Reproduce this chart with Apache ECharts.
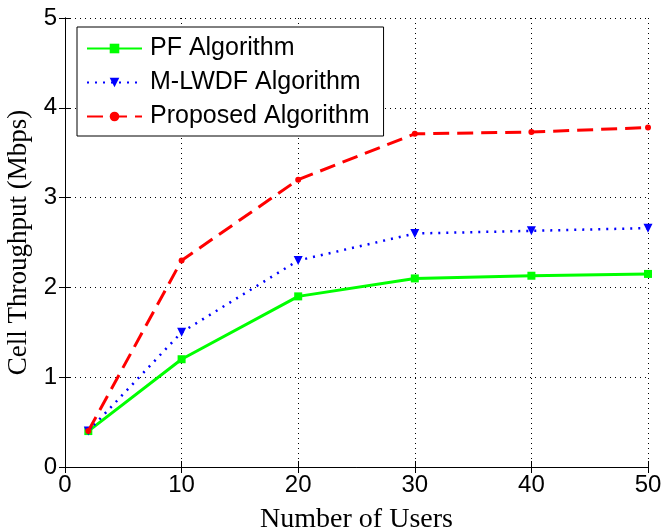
<!DOCTYPE html>
<html><head><meta charset="utf-8">
<script src="https://cdn.jsdelivr.net/npm/echarts@6/dist/echarts.min.js"></script>
<style>html,body{margin:0;padding:0;background:#fff}#c{width:661px;height:531px}</style>
</head><body><div id="c"></div>
<script>
var users = [2, 10, 20, 30, 40, 50];
var pf = [0.4, 1.2, 1.9, 2.1, 2.13, 2.15];
var mlwdf = [0.4, 1.5, 2.3, 2.6, 2.63, 2.66];
var proposed = [0.4, 2.3, 3.2, 3.71, 3.73, 3.78];
var seriesNames = ['PF Algorithm', 'M-LWDF Algorithm', 'Proposed Algorithm'];

function pairs(v){ return users.map(function(u,i){ return [u, v[i]]; }); }

var chart = echarts.init(document.getElementById('c'));
var axisFont = {fontFamily: 'Liberation Sans, Arial', fontSize: 24, color: '#000'};
chart.setOption({
  animation: false,
  backgroundColor: '#fff',
  grid: {left: 65, right: 13, top: 18, bottom: 64, containLabel: false, outerBoundsMode: 'none'},
  legend: {
    left: 77, top: 27, orient: 'vertical',
    data: seriesNames,
    itemWidth: 55, itemHeight: 12, itemGap: 9,
    borderColor: '#000', borderWidth: 1, padding: [9, 14, 7, 9],
    backgroundColor: '#fff',
    textStyle: {fontFamily: 'Liberation Sans, Arial', fontSize: 25, lineHeight: 24, color: '#000', padding: [0, 0, 0, 3]}
  },
  xAxis: [{
    type: 'value', min: 0, max: 50, interval: 10,
    name: 'Number of Users', nameLocation: 'middle', nameGap: 39,
    nameTextStyle: {fontFamily: 'Liberation Serif, Times New Roman', fontSize: 28, color: '#000'},
    axisLine: {show: true, lineStyle: {color: '#000', width: 1}},
    axisTick: {show: true, inside: true, length: 6, lineStyle: {color: '#000'}},
    axisLabel: Object.assign({margin: 6}, axisFont),
    splitLine: {show: true, lineStyle: {color: '#000', type: [1, 4], width: 1}}
  }, {
    type: 'value', min: 0, max: 50, interval: 10, position: 'top',
    axisLine: {show: true, lineStyle: {color: '#000', width: 1}},
    axisTick: {show: true, inside: true, length: 6, lineStyle: {color: '#000'}},
    axisLabel: {show: false}, splitLine: {show: false}
  }],
  yAxis: [{
    type: 'value', min: 0, max: 5, interval: 1,
    name: 'Cell Throughput (Mbps)', nameLocation: 'middle', nameGap: 31,
    nameTextStyle: {fontFamily: 'Liberation Serif, Times New Roman', fontSize: 27, color: '#000'},
    axisLine: {show: true, lineStyle: {color: '#000', width: 1}},
    axisTick: {show: true, inside: true, length: 6, lineStyle: {color: '#000'}},
    axisLabel: Object.assign({margin: 8}, axisFont),
    splitLine: {show: true, lineStyle: {color: '#000', type: [1, 4], width: 1}}
  }, {
    type: 'value', min: 0, max: 5, interval: 1, position: 'right',
    axisLine: {show: true, lineStyle: {color: '#000', width: 1}},
    axisTick: {show: true, inside: true, length: 6, lineStyle: {color: '#000'}},
    axisLabel: {show: false}, splitLine: {show: false}
  }],
  series: [{
    name: seriesNames[0], type: 'line', data: pairs(pf),
    symbol: 'rect', symbolSize: 8, color: '#00ff00',
    lineStyle: {color: '#00ff00', width: 3, type: 'solid'},
    itemStyle: {color: '#00ff00'}, z: 3
  }, {
    name: seriesNames[1], type: 'line', data: pairs(mlwdf),
    symbol: 'triangle', symbolRotate: 180, symbolSize: 9, color: '#0000ff',
    lineStyle: {color: '#0000ff', width: 2.5, type: [2, 6]},
    itemStyle: {color: '#0000ff'}, z: 4
  }, {
    name: seriesNames[2], type: 'line', data: pairs(proposed),
    symbol: 'circle', symbolSize: 6, color: '#ff0000',
    lineStyle: {color: '#ff0000', width: 3, type: [16, 8]},
    itemStyle: {color: '#ff0000'}, z: 5
  }]
});
</script></body></html>
